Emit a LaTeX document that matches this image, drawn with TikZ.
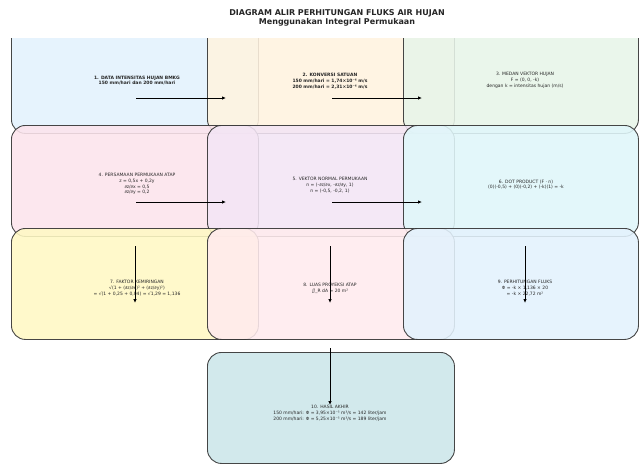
\documentclass[tikz,border=0pt]{standalone}
\usepackage{fontspec}
\setmainfont{DejaVu Sans}
\usetikzlibrary{arrows.meta}
\definecolor{cA}{HTML}{E3F2FD}
\definecolor{cB}{HTML}{FFF3E0}
\definecolor{cC}{HTML}{E8F5E9}
\definecolor{cD}{HTML}{FCE4EC}
\definecolor{cE}{HTML}{F3E5F5}
\definecolor{cF}{HTML}{E0F7FA}
\definecolor{cG}{HTML}{FFF9C4}
\definecolor{cH}{HTML}{FFEBEE}
\definecolor{cI}{HTML}{E3F2FD}
\definecolor{cJ}{HTML}{CCE6EA}
\definecolor{edge}{HTML}{333333}
\begin{document}
\begin{tikzpicture}[x=1pt,y=-1pt,
  box/.style={draw=edge, line width=0.9pt, rounded corners=14pt, fill opacity=0.88, draw opacity=0.9,
    minimum height=111pt, anchor=north west, inner sep=0pt},
  wbox/.style={box, minimum width=247pt},
  nbox/.style={box, minimum width=235pt},
  lbl/.style={font=\fontsize{4.5}{5.8}\selectfont, align=center, text=black!85, inner sep=0pt},
  blbl/.style={lbl, font=\fontsize{4.5}{5.8}\selectfont\bfseries},
  arr/.style={-{Latex[length=4pt,width=3.5pt]}, line width=0.9pt, black}]
\useasboundingbox (0,0) rectangle (640,464);
\fill[white] (0,0) rectangle (640,464);
\node[font=\fontsize{8}{9}\selectfont\bfseries, text=black!85, align=center] (title) at (337,18)
  {DIAGRAM ALIR PERHITUNGAN FLUKS AIR HUJAN\\Menggunakan Integral Permukaan};
\begin{scope}
\clip (0,38) rectangle (640,464);
\node[wbox, fill=cA] (b1) at (11,22) {};
\node[wbox, fill=cB] (b2) at (207,22) {};
\node[nbox, fill=cC] (b3) at (403,22) {};
\node[wbox, fill=cD] (b4) at (11,125) {};
\node[wbox, fill=cE] (b5) at (207,125) {};
\node[nbox, fill=cF] (b6) at (403,125) {};
\node[wbox, fill=cG] (b7) at (11,228) {};
\node[wbox, fill=cH] (b8) at (207,228) {};
\node[nbox, fill=cI] (b9) at (403,228) {};
\node[wbox, fill=cJ] (b10) at (207,352) {};
\end{scope}
\node[blbl] (t1) at (137,80.5) {1. DATA INTENSITAS HUJAN BMKG\\150 mm/hari dan 200 mm/hari};
\node[blbl] (t2) at (330,81) {2. KONVERSI SATUAN\\150 mm/hari = 1,74×10⁻⁶ m/s\\200 mm/hari = 2,31×10⁻⁶ m/s};
\node[lbl] (t3) at (525,80) {3. MEDAN VEKTOR HUJAN\\F = (0, 0, -k)\\dengan k = intensitas hujan (m/s)};
\node[lbl] (t4) at (137,184) {4. PERSAMAAN PERMUKAAN ATAP\\z = 0,5x + 0,2y\\∂z/∂x = 0,5\\∂z/∂y = 0,2};
\node[lbl] (t5) at (330,185) {5. VEKTOR NORMAL PERMUKAAN\\n = (-∂z/∂x, -∂z/∂y, 1)\\n = (-0,5, -0,2, 1)};
\node[lbl] (t6) at (526,184.5) {6. DOT PRODUCT (F · n)\\(0)(-0,5) + (0)(-0,2) + (-k)(1) = -k};
\node[lbl] (t7) at (137,288) {7. FAKTOR KEMIRINGAN\\√(1 + (∂z/∂x)² + (∂z/∂y)²)\\= √(1 + 0,25 + 0,04) = √1,29 = 1,136};
\node[lbl] (t8) at (330,288) {8. LUAS PROYEKSI ATAP\\∬\_R dA = 20 m²};
\node[lbl] (t9) at (525,288) {9. PERHITUNGAN FLUKS\\Φ = -k × 1,136 × 20\\= -k × 22,72 m²};
\node[lbl] (t10) at (330,413.5) {10. HASIL AKHIR\\150 mm/hari: Φ = 3,95×10⁻⁵ m³/s = 142 liter/jam\\200 mm/hari: Φ = 5,25×10⁻⁵ m³/s = 189 liter/jam};
\coordinate (a1s) at (136,98);  \coordinate (a1e) at (226,98);
\coordinate (a2s) at (332,98);  \coordinate (a2e) at (422,98);
\coordinate (a3s) at (136,202); \coordinate (a3e) at (226,202);
\coordinate (a4s) at (332,202); \coordinate (a4e) at (422,202);
\coordinate (a5s) at (135,246); \coordinate (a5e) at (135,303);
\coordinate (a6s) at (330,246); \coordinate (a6e) at (330,303);
\coordinate (a7s) at (525,246); \coordinate (a7e) at (525,303);
\coordinate (a8s) at (330,348); \coordinate (a8e) at (330,405);
\draw[arr] (a1s) -- (a1e);
\draw[arr] (a2s) -- (a2e);
\draw[arr] (a3s) -- (a3e);
\draw[arr] (a4s) -- (a4e);
\draw[arr] (a5s) -- (a5e);
\draw[arr] (a6s) -- (a6e);
\draw[arr] (a7s) -- (a7e);
\draw[arr] (a8s) -- (a8e);
\end{tikzpicture}
\end{document}
